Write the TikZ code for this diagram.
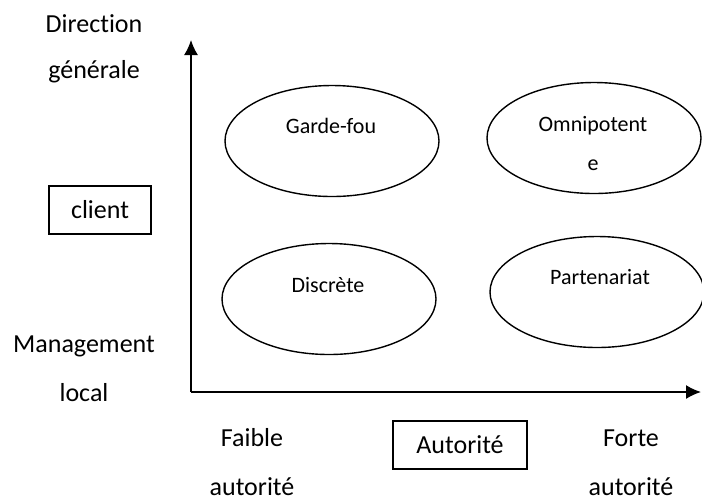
\documentclass[tikz,border=0pt]{standalone}
\usepackage{fontspec}
\setmainfont{Carlito}[Ligatures=NoCommon]
\usepackage{tikz}
\usetikzlibrary{shapes, arrows.meta, positioning}

\begin{document}
\begin{tikzpicture}[x=0.5pt, y=-0.5pt, thick,
    quad/.style={ellipse, draw, line width=0.7pt, minimum width=107pt, minimum height=55.5pt, inner sep=0pt},
    box/.style={rectangle, draw, line width=0.7pt, minimum height=24pt, inner sep=0pt, font=\fontsize{13}{15}\selectfont},
    axlbl/.style={align=center, anchor=base, font=\fontsize{13}{24.5}\selectfont},
    qlbl/.style={align=center, anchor=base, font=\fontsize{11}{19.5}\selectfont},
    axis/.style={->, >={Latex[length=7.5pt, width=7pt]}, line width=0.75pt}]
    \useasboundingbox (0,0) rectangle (702,500);
    % Axes
    \coordinate (origin) at (191,392);
    \coordinate (ytop) at (191,40);
    \coordinate (xend) at (701,392);
    \draw[axis] (origin) -- (ytop);
    \draw[axis] (origin) -- (xend);
    % Quadrants
    \node (gardefou) [quad] at (332,141) {};
    \node (omnipotente) [quad] at (594,138) {};
    \node (discrete) [quad] at (329,299) {};
    \node (partenariat) [quad] at (597,292) {};
    % Quadrant labels (base = last line)
    \node (tgardefou) [qlbl] at (331,133) {Garde-fou};
    \node (tomnipotente) [qlbl] at (593,170) {Omnipotent\\e};
    \node (tdiscrete) [qlbl] at (328,292) {Discrète};
    \node (tpartenariat) [qlbl] at (600,284) {Partenariat};
    % Axis labels
    \node (direction) [axlbl, font=\fontsize{13}{23}\selectfont] at (94,78) {Direction\\générale};
    \node (management) [axlbl] at (84,401) {Management\\local};
    \node (faible) [axlbl] at (252,495) {Faible\\autorité};
    \node (forte) [axlbl] at (631,495) {Forte\\autorité};
    \node (client) [box, minimum width=51pt] at (100,210) {client};
    \node (autorite) [box, minimum width=67pt] at (460,445) {Autorité};
\end{tikzpicture}
\end{document}
